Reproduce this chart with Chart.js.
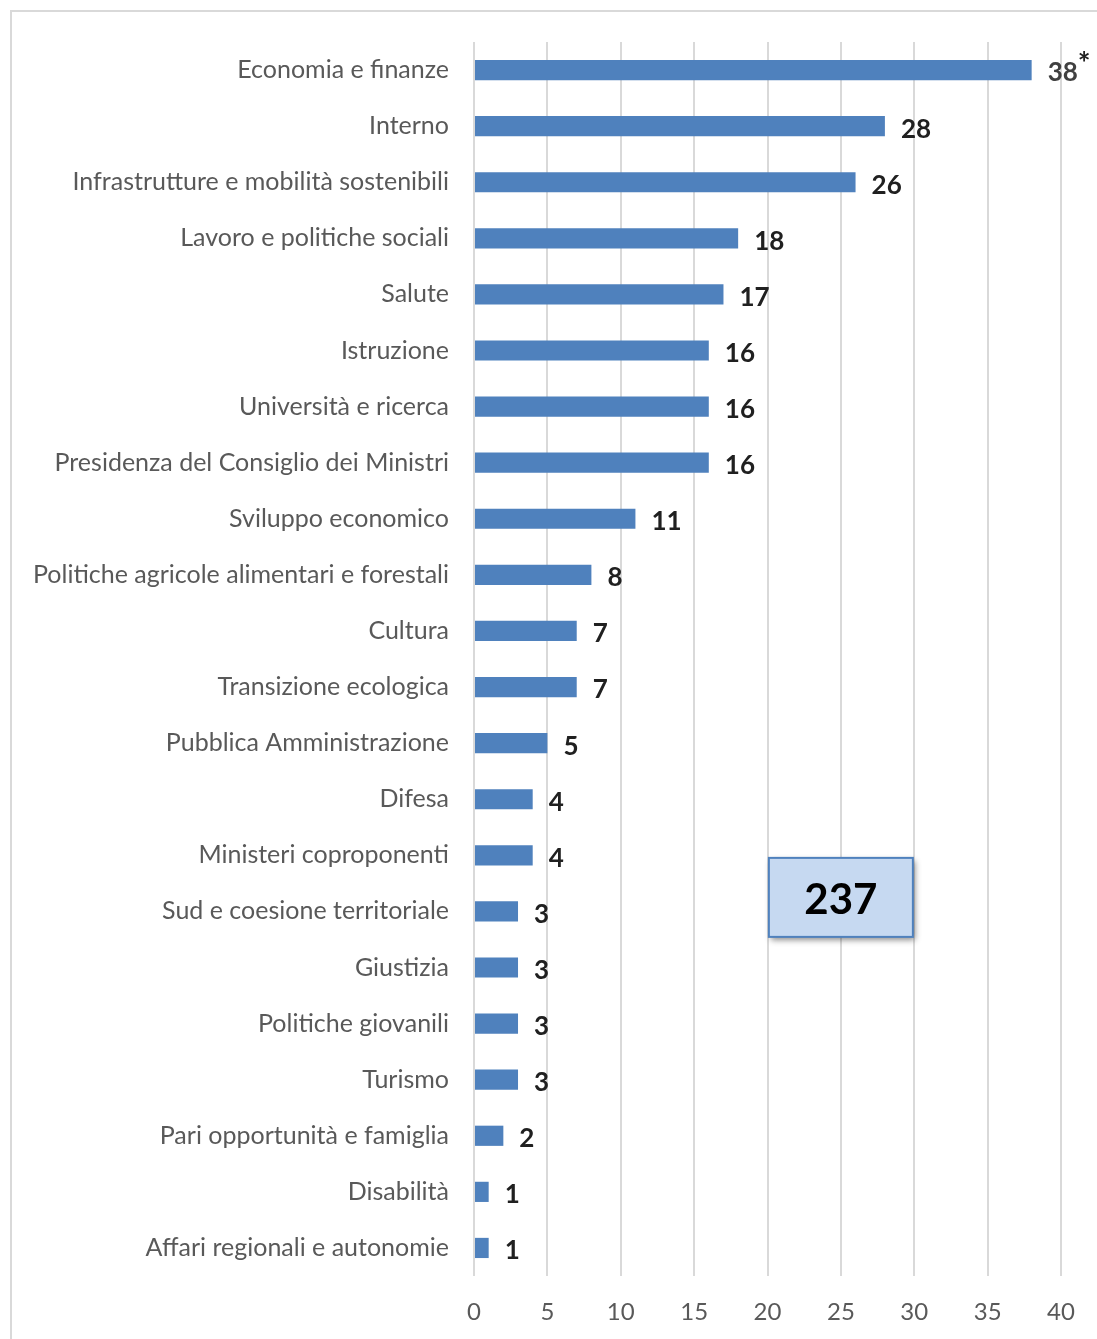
<!DOCTYPE html>
<html>
<head>
<meta charset="utf-8">
<script src="https://cdn.jsdelivr.net/npm/chart.js@4"></script>
<style>
  html, body { margin: 0; padding: 0; background: #fff; overflow: hidden; }
  #frame { position: absolute; left: 10px; top: 10px; width: 1200px; height: 1400px;
           border-left: 2px solid #d9d9d9; border-top: 2px solid #d9d9d9; }
  #wrap { position: absolute; left: 0; top: 0; width: 1097px; height: 1339px; }
</style>
</head>
<body>
<div id="frame"></div>
<div id="wrap"><canvas id="barChart" width="1097" height="1339"></canvas></div>
<script>
'use strict';

// ministeri e numero di provvedimenti
const categories = [
  'Economia e finanze', 'Interno', 'Infrastrutture e mobilità sostenibili',
  'Lavoro e politiche sociali', 'Salute', 'Istruzione', 'Università e ricerca',
  'Presidenza del Consiglio dei Ministri', 'Sviluppo economico',
  'Politiche agricole alimentari e forestali', 'Cultura', 'Transizione ecologica',
  'Pubblica Amministrazione', 'Difesa', 'Ministeri coproponenti',
  'Sud e coesione territoriale', 'Giustizia', 'Politiche giovanili', 'Turismo',
  'Pari opportunità e famiglia', 'Disabilità', 'Affari regionali e autonomie'
];
const values = [38, 28, 26, 18, 17, 16, 16, 16, 11, 8, 7, 7, 5, 4, 4, 3, 3, 3, 3, 2, 1, 1];
const noteMarks = ['*', '', '', '', '', '', '', '', '', '', '', '', '', '', '', '', '', '', '', '', '', ''];
const xTicks = [0, 5, 10, 15, 20, 25, 30, 35, 40];
const totalLabel = '237';

const FONT = "Lato, 'Liberation Sans', sans-serif";

// etichette dei valori a destra delle barre
const valueLabels = {
  id: 'valueLabels',
  afterDatasetsDraw(chart) {
    let ctx = chart.ctx
    let meta = chart.getDatasetMeta(0)
    ctx.save()
    ctx.fillStyle = '#404040'
    ctx.textBaseline = 'middle'
    ctx.textAlign = 'left'
    meta.data.forEach(function(bar, i) {
      ctx.font = 'bold 26px ' + FONT
      let txt = String(values[i])
      let x = bar.x + 16
      ctx.fillText(txt, x, bar.y + 3)
      if (noteMarks[i]) {
        let w = ctx.measureText(txt).width
        ctx.font = 'bold 30px ' + FONT
        ctx.fillStyle = '#202020'
        ctx.fillText(noteMarks[i], x + w, bar.y - 6)
      }
    })
    ctx.restore()
  }
}

// riquadro con il totale
const totalBox = {
  id: 'totalBox',
  afterDraw(chart) {
    let ctx = chart.ctx
    let cx = chart.scales.x.getPixelForValue(25)
    let cy = chart.scales.y.getPixelForValue(14.75)
    let w = 144, h = 79
    ctx.save()
    ctx.shadowColor = 'rgba(0,0,0,0.45)'
    ctx.shadowBlur = 6
    ctx.shadowOffsetX = 2
    ctx.shadowOffsetY = 3
    ctx.fillStyle = '#c6d9f1'
    ctx.fillRect(cx - w / 2, cy - h / 2, w, h)
    ctx.shadowColor = 'transparent'
    ctx.strokeStyle = '#4f81bd'
    ctx.lineWidth = 2
    ctx.strokeRect(cx - w / 2, cy - h / 2, w, h)
    ctx.fillStyle = '#000'
    ctx.font = 'bold 42px ' + FONT
    ctx.textAlign = 'center'
    ctx.textBaseline = 'middle'
    ctx.fillText(totalLabel, cx, cy + 3)
    ctx.restore()
  }
}

let context = document.querySelector('#barChart').getContext('2d')
new Chart(context, {
  type: 'bar',
  data: {
    labels: categories,
    datasets: [{
      label: '',
      data: values,
      backgroundColor: '#4f81bd',
      borderWidth: 0,
      barPercentage: 0.36,
      categoryPercentage: 1
    }]
  },
  plugins: [valueLabels, totalBox],
  options: {
    indexAxis: 'y',
    responsive: false,
    animation: false,
    layout: { padding: { top: 42, right: 36, left: 0, bottom: 0 } },
    plugins: {
      legend: { display: false },
      tooltip: { enabled: false }
    },
    scales: {
      x: {
        min: 0,
        max: 40,
        afterBuildTicks(scale) { scale.ticks = xTicks.map(function(v) { return { value: v } }) },
        afterFit(scale) { scale.height = 63 },
        grid: { color: '#d9d9d9', lineWidth: 2, drawTicks: false },
        border: { display: false },
        ticks: { color: '#595959', font: { family: FONT, size: 24 }, padding: 22 }
      },
      y: {
        afterFit(scale) { scale.width = 474 },
        grid: { display: false },
        border: { display: false },
        ticks: { color: '#595959', font: { family: FONT, size: 25 }, padding: 17, autoSkip: false }
      }
    }
  }
})
</script>
</body>
</html>
